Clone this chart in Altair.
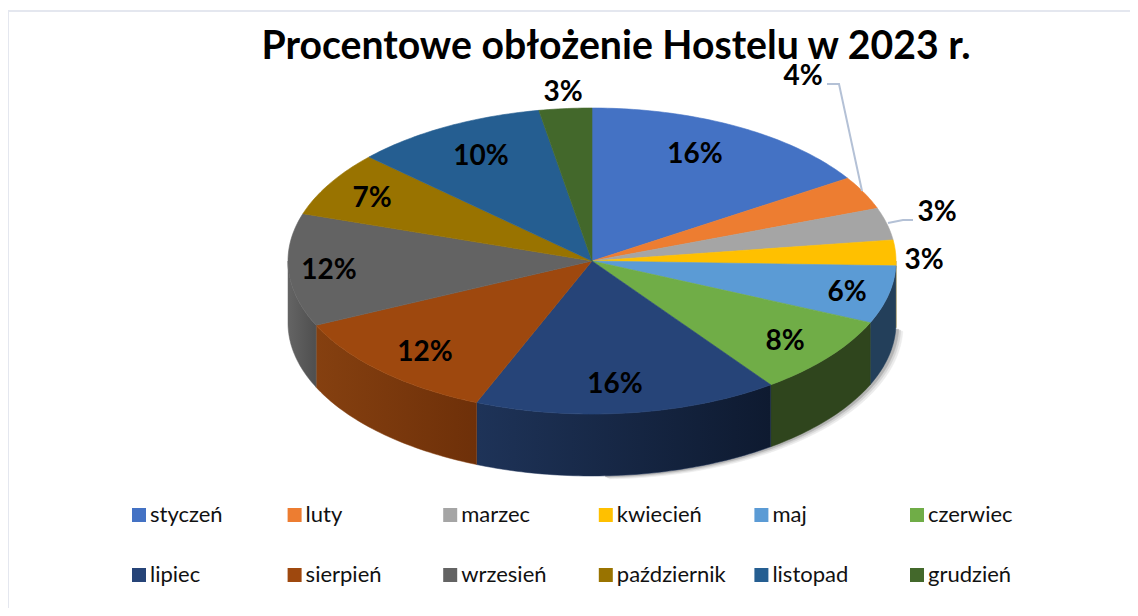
import math
import altair as alt
import pandas as pd

# ---- values ----
months = ["styczeń", "luty", "marzec", "kwiecień", "maj", "czerwiec",
          "lipiec", "sierpień", "wrzesień", "październik", "listopad", "grudzień"]
shares = [15.9, 3.5, 3.4, 2.7, 6.1, 8.4, 16.2, 11.9, 11.9, 6.9, 10.3, 2.8]
label_texts = ["16%", "4%", "3%", "3%", "6%", "8%", "16%", "12%", "12%", "7%", "10%", "3%"]
colors = ["#4472c4", "#ed7d31", "#a5a5a5", "#ffc000", "#5b9bd5", "#70ad47",
          "#264478", "#9e480e", "#636363", "#997300", "#255e91", "#43682b"]
side_left = ["#2c4a80", "#9a5120", "#6b6b6b", "#a67c00", "#233f5a", "#2f451d",
             "#1e3358", "#854010", "#646464", "#806000", "#1f4e79", "#385723"]
side_right = ["#2c4a80", "#9a5120", "#6b6b6b", "#a67c00", "#233f5a", "#2f451d",
              "#0e1a30", "#6e3009", "#4f4f4f", "#806000", "#1f4e79", "#385723"]
title_text = "Procentowe obłożenie Hostelu w 2023 r."

# ---- layout (page pixels) ----
W, H = 1122, 600
CX, CY, RX, RY, DEPTH = 592, 261, 304, 153, 62
label_x = [695, 803, 937, 924, 847, 785, 615, 425, 329, 372, 481, 563]
label_y = [153, 75, 211, 259, 291, 340, 383, 351, 269, 197, 155, 91]
leader_4 = [(827, 84), (839, 84), (862, 191)]
leader_3 = [(913, 220), (903, 220), (888, 223)]

xs = alt.Scale(domain=[8, 8 + W], range=[0, W], nice=False, zero=False)
ys = alt.Scale(domain=[8, 8 + H], range=[0, H], nice=False, zero=False)
X = alt.X("x:Q", scale=xs, axis=None)
Y = alt.Y("y:Q", scale=ys, axis=None)


def rim(deg, dy=0, dx=0):
    a = math.radians(deg)
    return CX + dx + RX * math.sin(a), CY + dy - RY * math.cos(a)


def arc(a0, a1, dy=0, dx=0):
    n = max(2, int(abs(a1 - a0)) + 2)
    return [rim(a0 + (a1 - a0) * i / (n - 1), dy, dx) for i in range(n)]


edges = [0]
for s in shares:
    edges.append(edges[-1] + s * 3.6)

# flat top of the pie
top_rows = []
for m, a0, a1 in zip(months, edges, edges[1:]):
    pts = [(CX, CY)] + arc(a0, a1)
    top_rows += [{"month": m, "x": x, "y": y, "o": i} for i, (x, y) in enumerate(pts)]

color_scale = alt.Scale(domain=months, range=colors)
legend = alt.Legend(
    title=None, orient="none", legendX=120, legendY=496, columns=6, direction="horizontal",
    symbolType="square", symbolSize=196, symbolStrokeWidth=0, symbolOpacity=1,
    labelFont="Lato", labelFontSize=22, labelColor="#111111", labelOffset=0,
    gridAlign="all", columnPadding=24.6, rowPadding=38, labelLimit=200,
)
top = alt.Chart(pd.DataFrame(top_rows)).mark_line(
    interpolate="linear-closed", strokeWidth=0.6
).encode(
    x=X, y=Y, order="o:Q",
    fill=alt.Fill("month:N", scale=color_scale, legend=legend, sort=months),
    stroke=alt.Stroke("month:N", scale=color_scale, legend=None, sort=months),
)

# side wall
side_layers = []
for i, (m, a0, a1) in enumerate(zip(months, edges, edges[1:])):
    lo, hi = max(a0, 90), min(a1, 270)
    if hi <= lo:
        continue
    pts = arc(lo, hi) + arc(hi, lo, DEPTH)
    df = pd.DataFrame([{"x": x, "y": y, "o": j} for j, (x, y) in enumerate(pts)])
    grad = alt.Gradient(
        gradient="linear", x1=0, y1=0, x2=1, y2=0,
        stops=[alt.GradientStop(offset=0, color=side_left[i]),
               alt.GradientStop(offset=1, color=side_right[i])],
    )
    side_layers.append(
        alt.Chart(df).mark_line(interpolate="linear-closed", fill=grad,
                                stroke=side_left[i], strokeWidth=0.5)
        .encode(x=X, y=Y, order="o:Q")
    )

# soft shadow on the lower right
shadow_layers = []
for dx, dy, col in [(7, 3, "#ececec"), (5, 2, "#d6d6d6"), (3, 1, "#b4b4b4")]:
    pts = arc(92, 178, DEPTH + dy, dx) + [(CX, CY + DEPTH)]
    df = pd.DataFrame([{"x": x, "y": y, "o": j} for j, (x, y) in enumerate(pts)])
    shadow_layers.append(
        alt.Chart(df).mark_line(interpolate="linear-closed", fill=col, stroke=col, strokeWidth=0.5)
        .encode(x=X, y=Y, order="o:Q")
    )

# percentage labels
label_df = pd.DataFrame({"x": label_x, "y": label_y, "t": label_texts})
labels = alt.Chart(label_df).mark_text(
    font="Lato", fontWeight="bold", fontSize=28, color="#000000", dy=2
).encode(x=X, y=Y, text="t:N")

# leader lines
leader_rows = []
for k, line in enumerate([leader_4, leader_3]):
    leader_rows += [{"k": k, "x": x, "y": y, "o": j} for j, (x, y) in enumerate(line)]
leaders = alt.Chart(pd.DataFrame(leader_rows)).mark_line(
    color="#b4c1d6", strokeWidth=2
).encode(x=X, y=Y, order="o:Q", detail="k:N")

# thin frame at the top and left
frame_top = alt.Chart(pd.DataFrame({"a": [0]})).mark_rule(color="#e4e7ef", strokeWidth=2).encode(
    x=alt.value(0), x2=alt.value(W), y=alt.value(3))
frame_left = alt.Chart(pd.DataFrame({"a": [0]})).mark_rule(color="#e4e7ef", strokeWidth=2).encode(
    x=alt.value(0), y=alt.value(2), y2=alt.value(H))

chart = alt.layer(
    frame_top, frame_left, *shadow_layers, *side_layers, top, leaders, labels
).resolve_scale(fill="independent", stroke="independent").properties(
    width=W, height=H, padding=0,
    autosize=alt.AutoSizeParams(type="none"),
    background="white",
    title=alt.TitleParams(
        title_text, font="Lato", fontWeight="bold", fontSize=39.2, color="#000000",
        anchor="middle", dx=47, dy=59, offset=0,
    ),
).configure_view(stroke=None)

chart.save("out.html", embed_options={"renderer": "svg", "actions": False})
